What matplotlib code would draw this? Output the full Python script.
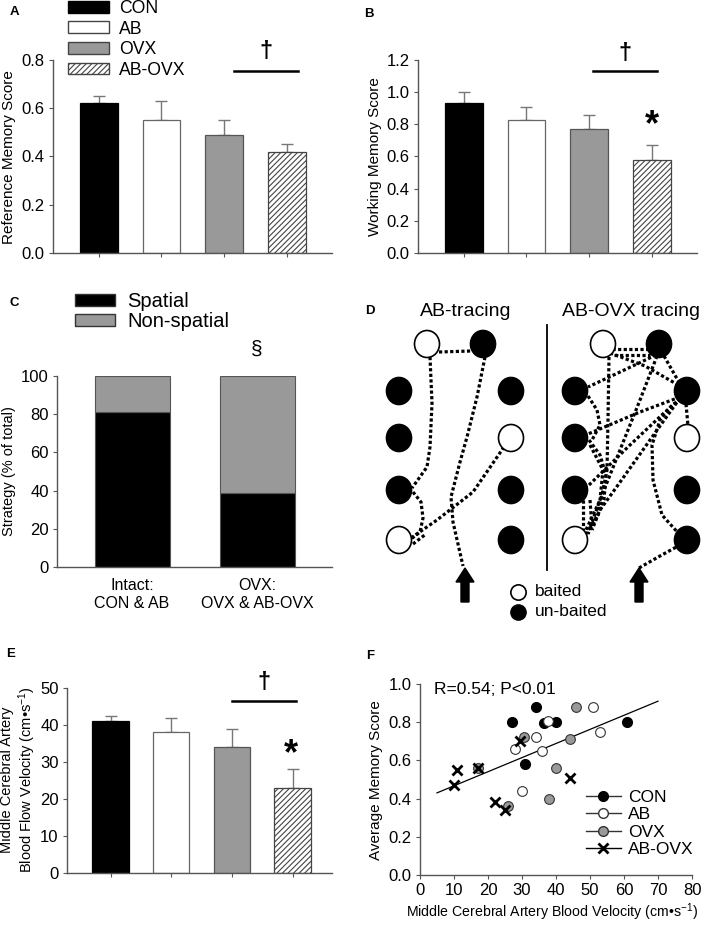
import matplotlib
matplotlib.use("Agg")
import matplotlib.pyplot as plt
import numpy as np
from matplotlib.patches import Ellipse, FancyArrow, Patch
from matplotlib.lines import Line2D

plt.rcParams['font.family'] = ['Liberation Sans', 'DejaVu Sans']
plt.rcParams['mathtext.fontset'] = 'custom'
plt.rcParams['mathtext.rm'] = 'Liberation Sans'
plt.rcParams['mathtext.it'] = 'Liberation Sans:italic'
plt.rcParams['mathtext.bf'] = 'Liberation Sans:bold'
plt.rcParams['mathtext.default'] = 'regular'
plt.rcParams['hatch.linewidth'] = 0.8

W, H = 709, 926

# bar panels A, B, E
groups = ["CON", "AB", "OVX", "AB-OVX"]
ref_mean = [0.62, 0.55, 0.49, 0.42]
ref_err = [0.03, 0.08, 0.06, 0.03]
work_mean = [0.93, 0.825, 0.77, 0.58]
work_err = [0.07, 0.08, 0.09, 0.09]
mcav_mean = [41, 38, 34, 23]
mcav_err = [1.3, 4, 5, 5]

# panel C
strategy_groups = ["Intact:\nCON & AB", "OVX:\nOVX & AB-OVX"]
spatial = [81, 39]
non_spatial = [19, 61]

# panel F
con_x = [34, 27, 36.5, 40, 61, 31]
con_y = [0.88, 0.80, 0.795, 0.80, 0.80, 0.58]
ab_x = [51, 37.5, 34, 28, 36, 53, 30]
ab_y = [0.88, 0.805, 0.72, 0.66, 0.65, 0.75, 0.44]
ovx_x = [46, 30.5, 44, 17, 40, 38, 26]
ovx_y = [0.88, 0.72, 0.71, 0.56, 0.56, 0.40, 0.36]
abovx_x = [29.5, 11, 17, 10, 44, 22, 25]
abovx_y = [0.70, 0.55, 0.56, 0.47, 0.51, 0.38, 0.34]
fit_x = [5, 70]
fit_y = [0.43, 0.91]

# panel D maze (pixel layout) : x, y, baited
maze_nodes = [(427, 344, 1), (483, 344, 0),
              (399, 391, 0), (399, 438, 0), (399, 490, 0), (399, 540, 1),
              (511, 391, 0), (511, 438, 1), (511, 490, 0), (511, 540, 0)]
maze_shift = 176
ab_paths = [
    [(439, 352), (471, 351)],
    [(430, 357), (432, 403), (430, 447), (427, 467), (412, 488)],
    [(413, 492), (421, 502), (423, 518), (420, 532), (411, 539)],
    [(485, 357), (477, 397), (467, 437), (460, 462), (451, 497), (453, 522), (463, 566)],
    [(411, 538), (437, 520), (473, 492), (493, 463), (504, 447)],
    [(413, 544), (426, 534)],
]
abovx_paths = [
    [(639, 568), (660, 556), (680, 545)],
    [(680, 535), (662, 515), (653, 480), (652, 445), (660, 420), (672, 405), (683, 398)],
    [(612, 349), (652, 349)],
    [(614, 355), (650, 355)],
    [(610, 353), (645, 366), (680, 386)],
    [(664, 356), (680, 384)],
    [(656, 355), (620, 372), (588, 387)],
    [(657, 356), (640, 400), (620, 450), (600, 500), (585, 532)],
    [(609, 357), (608, 420), (607, 470), (598, 515), (586, 534)],
    [(680, 397), (640, 412), (588, 434)],
    [(680, 398), (650, 440), (618, 485), (600, 510), (588, 534)],
    [(686, 404), (688, 426)],
    [(588, 396), (597, 410), (600, 425), (592, 440)],
    [(589, 440), (600, 455), (606, 475), (604, 500), (592, 530)],
    [(590, 445), (603, 470), (600, 500), (590, 528)],
    [(583, 500), (583, 530)],
    [(590, 500), (592, 528)],
    [(589, 485), (630, 445), (665, 412), (682, 398)],
]
arrow_x = [465, 639]

fig = plt.figure(figsize=(W / 100, H / 100), dpi=100)


def add_ax(x0, y0, x1, y1):
    return fig.add_axes([x0 / W, 1 - y1 / H, (x1 - x0) / W, (y1 - y0) / H])


def ylab(text, px, py, size=11):
    fig.text(px / W, 1 - py / H, text, rotation=90, ha='center', va='center',
             fontsize=size, linespacing=1.2)


def style(ax):
    ax.spines['top'].set_visible(False)
    ax.spines['right'].set_visible(False)
    for s in ['left', 'bottom']:
        ax.spines[s].set_color('#555555')
        ax.spines[s].set_linewidth(1)
    ax.tick_params(direction='out', length=3, pad=3, labelsize=12, color='#555555')


def bar_panel(ax, means, errs, xlim, ylim, yticks, fmt):
    x = np.arange(1, 5)
    colors = ['black', 'white', '#999999', 'white']
    edges = ['black', '#666666', '#555555', '#444444']
    bars = ax.bar(x, means, 0.6, color=colors, edgecolor=edges, linewidth=0.9, zorder=2)
    bars[3].set_hatch('//////')
    ax.errorbar(x, means, yerr=[np.zeros(4), errs], fmt='none', ecolor='#777777',
                elinewidth=1, capsize=4, capthick=1, zorder=1)
    ax.set_xlim(xlim)
    ax.set_ylim(ylim)
    ax.set_yticks(yticks)
    ax.set_yticklabels([fmt.format(v) for v in yticks])
    ax.set_xticks(x)
    ax.set_xticklabels([])
    style(ax)


def sig(ax, x0, x1, y, dy, star=None):
    ax.plot([x0, x1], [y, y], color='black', lw=1.8, clip_on=False)
    ax.text((x0 + x1) / 2, dy, '†', ha='center', va='center', fontsize=17,
            fontweight='bold', clip_on=False)
    if star is not None:
        ax.text(star[0], star[1], '*', ha='center', va='center', fontsize=26,
                fontweight='bold')


# A
axA = add_ax(53, 60, 332, 253)
bar_panel(axA, ref_mean, ref_err, (0.27, 4.72), (0, 0.8), np.arange(0, 0.81, 0.2), '{:.1f}')
ylab('Reference Memory Score', 9, 157)
sig(axA, 3.15, 4.17, 0.755, 0.835)

# B
axB = add_ax(418, 60, 697, 253)
bar_panel(axB, work_mean, work_err, (0.27, 4.72), (0, 1.2), np.arange(0, 1.21, 0.2), '{:.1f}')
ylab('Working Memory Score', 375, 157)
sig(axB, 3.06, 4.08, 1.13, 1.24, star=(4.0, 0.79))

legend_handles = [Patch(facecolor='black', edgecolor='black'),
                  Patch(facecolor='white', edgecolor='#444444'),
                  Patch(facecolor='#999999', edgecolor='#444444'),
                  Patch(facecolor='white', edgecolor='#444444', hatch='//////')]
fig.legend(legend_handles, groups, loc='upper left', bbox_to_anchor=(68 / W, 1 - 0 / H),
           frameon=False, fontsize=12.7, handlelength=2.3, handleheight=0.65,
           labelspacing=0.2, handletextpad=0.6, borderpad=0, borderaxespad=0)

# C
axC = add_ax(57, 376, 332, 567)
xc = np.arange(1, 3)
axC.bar(xc, spatial, 0.6, color='black', edgecolor='#555555', linewidth=0.8)
axC.bar(xc, non_spatial, 0.6, bottom=spatial, color='#999999', edgecolor='#555555', linewidth=0.8)
axC.set_xlim(0.4, 2.6)
axC.set_ylim(0, 100)
axC.set_yticks(range(0, 101, 20))
axC.set_xticks(xc)
axC.set_xticklabels(strategy_groups, fontsize=11.5)
style(axC)
axC.tick_params(axis='x', length=0, pad=8, labelsize=11.5)
ylab('Strategy (% of total)', 9, 471, 10.5)
axC.text(2, 114, '§', ha='center', va='center', fontsize=15, clip_on=False)
fig.legend([Patch(facecolor='black', edgecolor='#333333'),
            Patch(facecolor='#999999', edgecolor='#333333')],
           ['Spatial', 'Non-spatial'], loc='upper left', bbox_to_anchor=(75 / W, 1 - 292 / H),
           frameon=False, fontsize=14.5, handlelength=2.0, handleheight=0.6,
           labelspacing=0.05, handletextpad=0.6, borderpad=0, borderaxespad=0)

# D
axD = add_ax(350, 300, 709, 650)
axD.set_xlim(350, 709)
axD.set_ylim(650, 300)
axD.axis('off')
for shift, paths in [(0, ab_paths), (maze_shift, abovx_paths)]:
    for p in paths:
        px, py = zip(*p)
        axD.plot(px, py, color='black', lw=2.3, linestyle=(0, (1, 0.75)),
                 solid_capstyle='butt', zorder=1)
    for nx, ny, baited in maze_nodes:
        axD.add_patch(Ellipse((nx + shift, ny), 25, 27, facecolor='white' if baited else 'black',
                              edgecolor='black', lw=1.2, zorder=2))
for ax_ in arrow_x:
    axD.add_patch(FancyArrow(ax_, 602, 0, -34, width=8, head_width=18, head_length=14,
                             length_includes_head=True, color='black'))
axD.plot([547, 547], [325, 570], color='black', lw=1.3)
axD.text(466, 311, 'AB-tracing', ha='center', va='center', fontsize=14)
axD.text(631, 311, 'AB-OVX tracing', ha='center', va='center', fontsize=14)
axD.plot(518, 592, 'o', mfc='white', mec='black', ms=11, mew=1.2)
axD.plot(518, 612, 'o', mfc='black', mec='black', ms=11)
axD.text(535, 592, 'baited', va='center', fontsize=12.5)
axD.text(535, 612, 'un-baited', va='center', fontsize=12.5)

# E
axE = add_ax(67, 688, 332, 873)
bar_panel(axE, mcav_mean, mcav_err, (0.28, 4.65), (0, 50), np.arange(0, 51, 10), '{:.0f}')
ylab('Middle Cerebral Artery\nBlood Flow Velocity (cm•s$^{-1}$)', 19, 780, 10.5)
sig(axE, 3.0, 4.05, 46.6, 51.5, star=(3.98, 32))

# F
axF = add_ax(420, 684, 692, 875)
axF.plot(fit_x, fit_y, color='black', lw=0.9)
axF.plot(con_x, con_y, 'o', mfc='black', mec='black', ms=7, ls='none')
axF.plot(ab_x, ab_y, 'o', mfc='white', mec='#333333', ms=7, mew=0.8, ls='none')
axF.plot(ovx_x, ovx_y, 'o', mfc='#999999', mec='#333333', ms=7, mew=0.8, ls='none')
axF.plot(abovx_x, abovx_y, 'x', color='black', ms=6.5, mew=2, ls='none')
axF.set_xlim(0, 80)
axF.set_ylim(0, 1.0)
axF.set_xticks(range(0, 81, 10))
axF.set_yticks(np.arange(0, 1.01, 0.2))
axF.set_yticklabels(['{:.1f}'.format(v) for v in np.arange(0, 1.01, 0.2)])
style(axF)
ylab('Average Memory Score', 376, 780)
fig.text(552 / W, 1 - 912 / H, 'Middle Cerebral Artery Blood Velocity (cm•s$^{-1}$)',
         ha='center', va='center', fontsize=10.2)
axF.text(4, 0.97, 'R=0.54; P<0.01', fontsize=12.5, va='center')
f_handles = [Line2D([], [], color='#333333', lw=1, marker='o', mfc='black', mec='black', ms=7),
             Line2D([], [], color='#333333', lw=1, marker='o', mfc='white', mec='#333333', ms=7),
             Line2D([], [], color='#333333', lw=1, marker='o', mfc='#999999', mec='#333333', ms=7),
             Line2D([], [], color='black', lw=1, marker='x', ms=6.5, mew=2)]
axF.legend(f_handles, groups, loc='upper left', bbox_to_anchor=(586 / W, 1 - 790 / H),
           bbox_transform=fig.transFigure, frameon=False, fontsize=12.5, handlelength=2.0,
           labelspacing=0.12, handletextpad=0.4, borderpad=0, borderaxespad=0)

# panel letters
for lab, px, py in [('A', 10, 12), ('B', 364, 14), ('C', 9, 303), ('D', 365, 311),
                    ('E', 6, 654), ('F', 366, 656)]:
    fig.text(px / W, 1 - py / H, lab, fontsize=9.5, fontweight='bold', va='center')

fig.savefig('out.png', dpi=100)
